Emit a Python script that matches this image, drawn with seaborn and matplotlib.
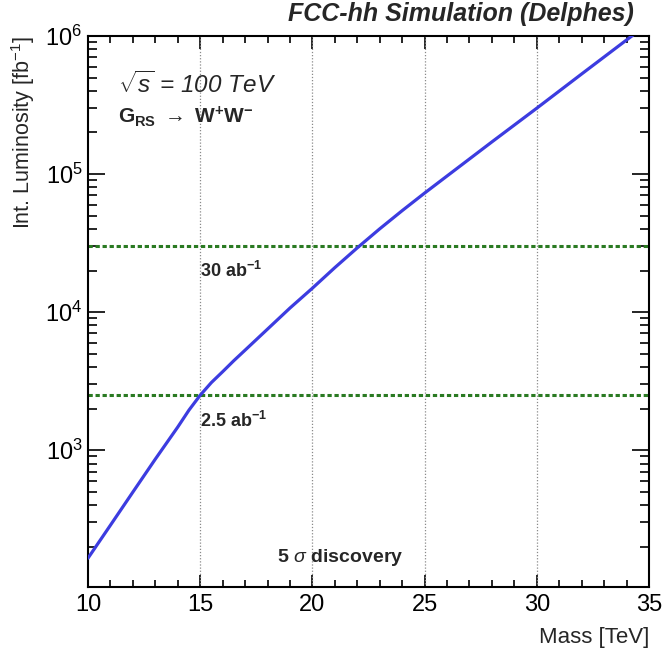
import numpy as np
import pandas as pd
import matplotlib
matplotlib.use("Agg")
import matplotlib.pyplot as plt
import seaborn as sns
from matplotlib.ticker import MultipleLocator, LogLocator, NullFormatter

# 5 sigma discovery reach for G_RS -> WW at sqrt(s) = 100 TeV
mass_tev = [10, 11, 12, 13, 14, 14.5, 15, 15.5, 16, 16.5, 17, 18, 19, 20, 21,
            22, 23, 24, 25, 26, 28, 30, 32, 34, 35]
lumi_fb = [165, 286, 497, 861, 1470, 1950, 2500, 3090, 3700, 4450, 5300,
           7530, 10700, 14900, 21000, 29200, 40100, 54300, 72800, 96800,
           171000, 300000, 531000, 936000, 1240000]

# reference integrated luminosities [fb^-1]
ref_lumi = [30000, 2500]
ref_labels = [r"$\mathbf{30\ ab^{-1}}$", r"$\mathbf{2.5\ ab^{-1}}$"]
ref_label_pos = [(15.0, 2.0e4), (15.0, 1.62e3)]

x_ticks = [10, 15, 20, 25, 30, 35]

df = pd.DataFrame({"mass": mass_tev, "lumi": lumi_fb})

sns.set_style("ticks")
plt.rcParams["font.family"] = ["Liberation Sans", "DejaVu Sans"]
plt.rcParams["mathtext.fontset"] = "custom"
plt.rcParams["mathtext.rm"] = "Liberation Sans"
plt.rcParams["mathtext.it"] = "Liberation Sans:italic"
plt.rcParams["mathtext.bf"] = "Liberation Sans:bold"

fig = plt.figure(figsize=(6.64, 6.49), dpi=100)
ax = fig.add_axes([88 / 664, 1 - 587 / 649, (649 - 88) / 664, (587 - 36) / 649])

# vertical grid at the major mass ticks
for xv in x_ticks[1:-1]:
    ax.axvline(xv, color="#8a8a8a", lw=0.9, ls=(0, (1, 1.5)), zorder=1)

for yv in ref_lumi:
    ax.axhline(yv, color="#2a7a22", lw=2.2, ls=(0, (1.4, 0.9)), zorder=2)

sns.lineplot(data=df, x="mass", y="lumi", ax=ax, color="#3c3ce0", lw=2.3,
             zorder=3, legend=False)

ax.set_yscale("log")
ax.set_xlim(10, 35)
ax.set_ylim(102, 1e6)

ax.xaxis.set_major_locator(MultipleLocator(5))
ax.xaxis.set_minor_locator(MultipleLocator(1))
ax.yaxis.set_major_locator(LogLocator(base=10, numticks=10))
ax.yaxis.set_minor_locator(LogLocator(base=10, subs=np.arange(2, 10), numticks=20))
ax.yaxis.set_minor_formatter(NullFormatter())

ax.tick_params(which="both", direction="in", top=True, right=True,
               width=1.2, colors="black", labelsize=17)
ax.tick_params(axis="x", which="major", length=9, pad=5)
ax.tick_params(axis="x", which="minor", length=5)
ax.tick_params(axis="y", which="major", length=12, pad=4)
ax.tick_params(axis="y", which="minor", length=6.5)
for s in ax.spines.values():
    s.set_linewidth(1.5)
    s.set_color("black")

ax.set_xlabel("Mass [TeV]", loc="right", fontsize=16, labelpad=8)
ax.set_ylabel(r"Int. Luminosity [fb$^{-1}$]", loc="top", fontsize=15.5, labelpad=6)

for (xl, yl), lab in zip(ref_label_pos, ref_labels):
    ax.text(xl, yl, lab, fontsize=13, va="center", ha="left")

ax.text(0.053, 0.911, r"$\sqrt{s}$ = 100 TeV", transform=ax.transAxes,
        fontsize=17.5, style="italic", va="center", ha="left")
ax.text(0.053, 0.853, r"$\mathbf{G_{RS}}$ $\rightarrow$ $\mathbf{W^{+}W^{-}}$",
        transform=ax.transAxes, fontsize=15, va="center", ha="left")
ax.text(0.337, 0.054, r"5 $\sigma$ discovery", transform=ax.transAxes,
        fontsize=14, fontweight="bold", va="center", ha="left")

fig.text(634 / 664, 1 - 14 / 649, "FCC-hh Simulation (Delphes)", fontsize=18,
         fontweight="bold", style="italic", ha="right", va="center")

fig.savefig("out.png", dpi=100)
